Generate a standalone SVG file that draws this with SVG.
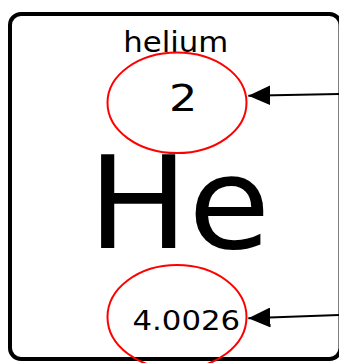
<svg xmlns="http://www.w3.org/2000/svg" width="339" height="363" viewBox="0 0 339 363">
  <style>
    .lbl { font-family: "DejaVu Sans", "Noto Sans", sans-serif; fill: #000; }
    .ring { fill: none; stroke: #ff0000; stroke-width: 2; }
    .conn { fill: none; stroke: #000; stroke-width: 2; }
  </style>
  <defs>
    <marker id="head" markerUnits="userSpaceOnUse" markerWidth="22" markerHeight="20" viewBox="0 0 21 19" refX="21" refY="9.5" orient="auto">
      <path d="M0,0 L21,9.5 L0,19 Z" fill="#000"/>
    </marker>
  </defs>
  <rect width="339" height="363" fill="#fff"/>
  <g id="card">
    <rect x="10" y="14" width="330.5" height="345" rx="11" ry="11" fill="#fff" stroke="#000" stroke-width="4"/>
  </g>
  <g id="name">
    <text class="lbl" transform="translate(126,52.3) scale(1.062,1)" x="-2.6" y="0" font-size="29">helium</text>
  </g>
  <g id="atomic-number">
    <ellipse class="ring" cx="177" cy="102.8" rx="69.5" ry="50.3"/>
    <text class="lbl" transform="translate(183.2,110.7) scale(1.184,1)" x="0" y="0" font-size="37.6" text-anchor="middle">2</text>
  </g>
  <g id="symbol">
    <text class="lbl" transform="translate(101,247.7) scale(1.046,1)" x="-12.5" y="0" font-size="127.5">He</text>
  </g>
  <g id="atomic-mass">
    <ellipse class="ring" cx="177" cy="317" rx="69.5" ry="52"/>
    <text class="lbl" transform="translate(134,329.6) scale(1.184,1)" x="-1.27" y="0" font-size="26">4.0026</text>
  </g>
  <g id="connectors">
    <line class="conn" x1="339" y1="94" x2="248.3" y2="95.7" marker-end="url(#head)"/>
    <line class="conn" x1="339" y1="315" x2="248.3" y2="318.3" marker-end="url(#head)"/>
  </g>
</svg>
